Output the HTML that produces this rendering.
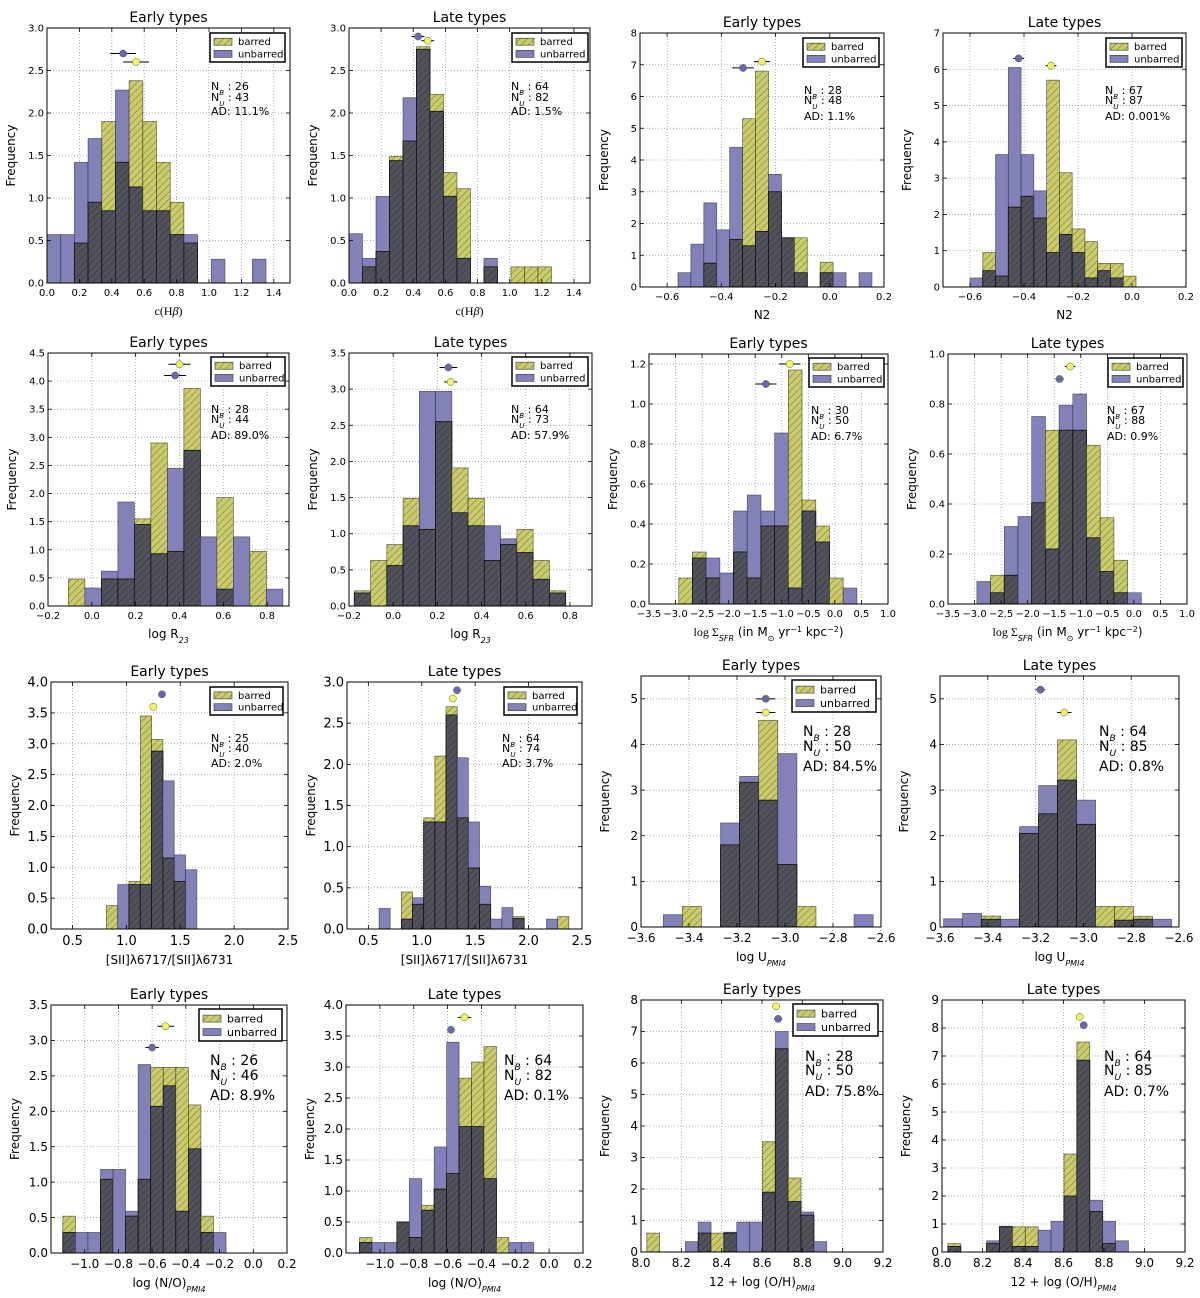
<!DOCTYPE html>
<html><head><meta charset="utf-8">
<style>
html,body{margin:0;padding:0;background:#fff;}
svg{display:block;font-family:"DejaVu Sans","Liberation Sans",sans-serif;}
</style></head>
<body>
<svg id="fig" width="1200" height="1298" viewBox="0 0 1200 1298" xmlns="http://www.w3.org/2000/svg">
<defs>
<pattern id="hatch" patternUnits="userSpaceOnUse" width="5" height="5" patternTransform="rotate(45)">
<line x1="0" y1="0" x2="0" y2="5" stroke="#000" stroke-width="1" stroke-opacity="0.45"/>
</pattern>
</defs>
</svg>
<script>
// ---- data: bin starts / widths ----
const binStart = [0, 0, -0.56, -0.6, -0.107, -0.176, -2.94, -2.956, 0.814, 0.6, -3.507, -3.585, -1.13, -1.12, 8.029, 8.029];
const binWidth = [0.0845, 0.084, 0.0477, 0.0473, 0.0753, 0.0736, 0.258, 0.258, 0.105, 0.1045, 0.0795, 0.0795, 0.0745, 0.0735, 0.0637, 0.0637];
// ---- barred / unbarred frequencies ----
const P1_barred   = [0,0,0.47,0.95,1.90,1.42,2.38,1.90,1.42,0.95,0.47,0,0,0,0,0];
const P1_unbarred = [0.57,0.57,1.42,1.70,0.85,2.27,1.13,0.85,0.85,0.57,0.57,0,0.28,0,0,0.28];
const P2_barred   = [0,0.19,0.37,1.49,1.67,2.78,2.22,1.30,1.11,0,0.19,0,0.19,0.19,0.19];
const P2_unbarred = [0.58,0.29,1.02,1.44,2.18,2.75,2.02,1.02,0.29,0,0.29,0,0,0,0];
const P3_barred   = [0,0,0.75,0,1.5,5.3,6.8,3.0,1.55,1.55,0,0.78,0,0,0];
const P3_unbarred = [0.45,1.35,2.65,1.8,4.4,1.3,1.75,3.55,1.55,0.45,0,0.45,0.45,0,0.45];
const P4_barred   = [0,0.95,0.3,2.2,2.5,1.9,5.7,3.15,1.6,1.25,0.65,0.65,0.3];
const P4_unbarred = [0.25,0.45,3.65,6.05,3.65,2.65,0.95,1.45,0.95,0.25,0.45,0.25,0];
const P5_barred   = [0.48,0,0.48,0.48,1.55,2.9,0.97,3.87,0,1.93,0,0.97,0];
const P5_unbarred = [0,0.32,0.62,1.85,1.45,0.93,2.45,2.77,1.23,0.3,1.23,0,0.3];
const P6_barred   = [0.21,0.63,0.85,1.49,1.06,2.55,1.91,1.49,0.63,0.85,1.06,0.63,0.21];
const P6_unbarred = [0.18,0,0.56,1.11,2.97,2.97,1.29,1.11,1.11,0.93,0.74,0.37,0.18];
const P7_barred   = [0.13,0.26,0.13,0,0.26,0.13,0.39,0.39,1.17,0.52,0.39,0.13,0];
const P7_unbarred = [0,0.23,0.23,0.155,0.465,0.545,0.465,0.855,0.08,0.465,0.31,0,0.08];
const P8_barred   = [0,0.115,0.115,0,0.405,0.695,0.695,0.695,0.635,0.345,0.175,0];
const P8_unbarred = [0.09,0.045,0.31,0.35,0.75,0.22,0.795,0.84,0.265,0.13,0.045,0.045];
const P9_barred   = [0.38,0,0.77,3.45,3.07,1.15,0.77,0];
const P9_unbarred = [0,0.72,0.72,0.72,2.88,2.4,1.2,0.96];
const P10_barred   = [0,0,0.45,0.3,1.35,2.1,2.7,1.35,0.74,0.3,0,0,0.15,0,0,0,0.15];
const P10_unbarred = [0.25,0,0.12,0.38,1.3,1.3,2.6,2.08,1.3,0.52,0.12,0.26,0.13,0,0,0.12,0];
const P11_barred   = [0,0.45,0,1.8,3.17,4.53,1.37,0.45,0,0,0];
const P11_unbarred = [0.27,0,0,2.28,3.3,2.78,3.8,0,0,0,0.27];
const P12_barred   = [0,0,0.24,0,2.05,2.48,4.1,2.25,0.45,0.45,0.23,0];
const P12_unbarred = [0.18,0.3,0.17,0.17,2.2,3.1,3.22,2.78,0,0.15,0.17,0.17];
const P13_barred   = [0.52,0,0,1.04,0,0.52,1.04,2.62,2.62,2.62,2.09,0.52,0];
const P13_unbarred = [0.29,0.29,0.29,1.18,1.18,0.59,2.66,2.07,2.36,0.59,1.47,0.29,0.29];
const P14_barred   = [0.25,0,0,0.5,0.25,0.77,1.03,1.28,2.82,3.08,3.33,0.25,0,0];
const P14_unbarred = [0.17,0.17,0.17,0.5,1.2,0.69,1.71,3.4,2.04,2.04,1.2,0,0.17,0.17];
const P15_barred   = [0.6,0,0,0,0.6,0.6,0.6,0,0,3.5,6.45,2.35,1.17,0];
const P15_unbarred = [0,0,0,0.33,0.95,0,0.63,0.95,0.95,1.9,7.0,1.6,1.27,0.33];
const P16_barred   = [0.3,0,0,0.3,0.9,0.9,0.9,0,0,3.5,7.5,1.45,0.3,0];
const P16_unbarred = [0.2,0,0,0.4,0.92,0.2,0.2,0.78,1.1,2.0,6.85,1.85,1.1,0.4];
const barredSeries = [P1_barred,P2_barred,P3_barred,P4_barred,P5_barred,P6_barred,P7_barred,P8_barred,P9_barred,P10_barred,P11_barred,P12_barred,P13_barred,P14_barred,P15_barred,P16_barred];
const unbarredSeries = [P1_unbarred,P2_unbarred,P3_unbarred,P4_unbarred,P5_unbarred,P6_unbarred,P7_unbarred,P8_unbarred,P9_unbarred,P10_unbarred,P11_unbarred,P12_unbarred,P13_unbarred,P14_unbarred,P15_unbarred,P16_unbarred];
// ---- mean markers: [x, y, xerr] ----
const barredMean = [[0.55,2.6,0.08],[0.49,2.85,0.04],[-0.25,7.1,0.03],[-0.30,6.1,0.02],[0.40,4.3,0.05],[0.26,3.1,0.03],[-0.85,1.2,0.2],[-1.2,0.95,0.1],[1.25,3.6,0.03],[1.29,2.8,0.03],[-3.08,4.7,0.04],[-3.08,4.7,0.03],[-0.52,3.2,0.05],[-0.5,3.8,0.04],[8.67,7.8,0.01],[8.68,8.4,0.01]];
const unbarredMean = [[0.47,2.7,0.08],[0.43,2.9,0.04],[-0.32,6.9,0.04],[-0.42,6.3,0.02],[0.38,4.1,0.05],[0.25,3.3,0.04],[-1.3,1.1,0.2],[-1.4,0.9,0.08],[1.33,3.8,0.03],[1.33,2.9,0.02],[-3.08,5.0,0.04],[-3.18,5.2,0.02],[-0.6,2.9,0.04],[-0.58,3.6,0.02],[8.68,7.4,0.02],[8.7,8.1,0.01]];
const countB = ["26","64","28","67","28","64","30","67","25","64","28","64","26","64","28","64"];
const countU = ["43","82","48","87","44","73","50","88","40","74","50","85","46","82","50","85"];
const adText = ["11.1%","1.5%","1.1%","0.001%","89.0%","57.9%","6.7%","0.9%","2.0%","3.7%","84.5%","0.8%","8.9%","0.1%","75.8%","0.7%"];
const titles = ["Early types","Late types","Early types","Late types","Early types","Late types","Early types","Late types","Early types","Late types","Early types","Late types","Early types","Late types","Early types","Late types"];
// ---- axis ticks ----
const xTicks = [[0,0.2,0.4,0.6,0.8,1.0,1.2,1.4],[0,0.2,0.4,0.6,0.8,1.0,1.2,1.4],[-0.6,-0.4,-0.2,0,0.2],[-0.6,-0.4,-0.2,0,0.2],[-0.2,0,0.2,0.4,0.6,0.8],[-0.2,0,0.2,0.4,0.6,0.8],[-3.5,-3,-2.5,-2,-1.5,-1,-0.5,0,0.5,1],[-3.5,-3,-2.5,-2,-1.5,-1,-0.5,0,0.5,1],[0.5,1,1.5,2,2.5],[0.5,1,1.5,2,2.5],[-3.6,-3.4,-3.2,-3.0,-2.8,-2.6],[-3.6,-3.4,-3.2,-3.0,-2.8,-2.6],[-1,-0.8,-0.6,-0.4,-0.2,0,0.2],[-1,-0.8,-0.6,-0.4,-0.2,0,0.2],[8,8.2,8.4,8.6,8.8,9,9.2],[8,8.2,8.4,8.6,8.8,9,9.2]];
const yTicks = [[0,0.5,1,1.5,2,2.5,3],[0,0.5,1,1.5,2,2.5,3],[0,1,2,3,4,5,6,7,8],[0,1,2,3,4,5,6,7],[0,0.5,1,1.5,2,2.5,3,3.5,4,4.5],[0,0.5,1,1.5,2,2.5,3,3.5],[0,0.2,0.4,0.6,0.8,1.0,1.2],[0,0.2,0.4,0.6,0.8,1.0],[0,0.5,1,1.5,2,2.5,3,3.5,4],[0,0.5,1,1.5,2,2.5,3],[0,1,2,3,4,5],[0,1,2,3,4,5],[0,0.5,1,1.5,2,2.5,3,3.5],[0,0.5,1,1.5,2,2.5,3,3.5,4],[0,1,2,3,4,5,6,7,8],[0,1,2,3,4,5,6,7,8,9]];

// ---- layout (pixel) ----
const layout = [
 {L:47,R:290,T:28,B:283,xr:[0,1.5],yr:[0,3],xd:1,yd:1,sx:211,sy:[86,97,111],fs:11,leg:[210,33,75,29],xl:'chb'},
 {L:349,R:590,T:28,B:283,xr:[0,1.5],yr:[0,3],xd:1,yd:1,sx:511,sy:[86,97,111],fs:11,leg:[512,33,76,29],xl:'chb'},
 {L:640,R:884,T:33,B:287,xr:[-0.7,0.2],yr:[0,8],xd:1,yd:0,sx:804,sy:[90,100,116],fs:11,leg:[803,38,76,29],xl:'N2'},
 {L:943,R:1186,T:33,B:287,xr:[-0.7,0.2],yr:[0,7],xd:1,yd:0,sx:1105,sy:[90,100,116],fs:11,leg:[1106,38,76,29],xl:'N2'},
 {L:48,R:289,T:353,B:606,xr:[-0.2,0.9],yr:[0,4.5],xd:1,yd:1,sx:211,sy:[409,419,435],fs:11,leg:[211,357,74,29],xl:'r23'},
 {L:349,R:592,T:353,B:606,xr:[-0.2,0.9],yr:[0,3.5],xd:1,yd:1,sx:511,sy:[409,419,435],fs:11,leg:[512,357,76,29],xl:'r23'},
 {L:649,R:888,T:354,B:604,xr:[-3.5,1.0],yr:[0,1.25],xd:1,yd:1,sx:811,sy:[410,420,436],fs:11,leg:[809,358,75,29],xl:'sfr'},
 {L:948,R:1187,T:354,B:604,xr:[-3.5,1.0],yr:[0,1.0],xd:1,yd:1,sx:1107,sy:[410,420,436],fs:11,leg:[1108,358,75,29],xl:'sfr'},
 {L:51,R:288,T:682,B:929,xr:[0.3,2.5],yr:[0,4],xd:1,yd:1,sx:211,sy:[738,748,763],fs:11,leg:[210,687,73,28],xl:'sii',tfs:13},
 {L:347,R:582,T:682,B:929,xr:[0.3,2.5],yr:[0,3],xd:1,yd:1,sx:502,sy:[738,748,763],fs:11,leg:[504,687,73,28],xl:'sii',tfs:13},
 {L:641,R:881,T:676,B:927,xr:[-3.6,-2.6],yr:[0,5.5],xd:1,yd:0,sx:803,sy:[731,746,766],fs:14,leg:[792,680,84,32],xl:'u',tfs:12},
 {L:940,R:1179,T:676,B:927,xr:[-3.6,-2.6],yr:[0,5.5],xd:1,yd:0,sx:1099,sy:[731,746,766],fs:14,leg:null,xl:'u',tfs:12},
 {L:51,R:287,T:1005,B:1253,xr:[-1.2,0.2],yr:[0,3.5],xd:1,yd:1,sx:210,sy:[1060,1075,1095],fs:14,leg:[199,1009,83,32],xl:'no',tfs:12},
 {L:346,R:583,T:1005,B:1253,xr:[-1.2,0.2],yr:[0,4],xd:1,yd:1,sx:504,sy:[1060,1075,1095],fs:14,leg:null,xl:'no',tfs:12},
 {L:641,R:883,T:1000,B:1252,xr:[8.0,9.2],yr:[0,8],xd:1,yd:0,sx:805,sy:[1056,1070,1091],fs:14,leg:[793,1004,85,32],xl:'oh',tfs:12},
 {L:942,R:1185,T:1000,B:1252,xr:[8.0,9.2],yr:[0,9],xd:1,yd:0,sx:1104,sy:[1056,1070,1091],fs:14,leg:null,xl:'oh',tfs:12}
];
layout[13].leg = null;

const NS = 'http://www.w3.org/2000/svg';
const fig = document.getElementById('fig');
function mk(tag, attrs, parent){
  const e = document.createElementNS(NS, tag);
  for (const k in attrs) e.setAttribute(k, attrs[k]);
  (parent||fig).appendChild(e);
  return e;
}
function fmt(v, d){ const s = v.toFixed(d); return s.replace('-', '\u2212'); }

const xLabelHTML = {
 chb: [['c(H','Liberation Serif'],['β','Liberation Serif'],[')','Liberation Serif']],
};

function addXLabel(g, lay, cx, y, fs){
  const t = mk('text', {x:cx, y:y, 'text-anchor':'middle', 'font-size':fs, fill:'#000'}, g);
  
  
  const sub = (txt, s) => { const ts = mk('tspan', {'baseline-shift':'sub','font-size':s||8,'font-style':'italic'}, t); ts.textContent = txt; };
  const sup = (txt) => { const ts = mk('tspan', {'baseline-shift':'super','font-size':8}, t); ts.textContent = txt; };
  const pl = (txt, attrs) => { const ts = mk('tspan', attrs||{}, t); ts.textContent = txt; };
  switch(lay.xl){
    case 'chb': t.setAttribute('font-family','Liberation Serif, serif'); pl('c(H'); pl('β',{'font-style':'italic'}); pl(')'); break;
    case 'N2': pl('N2'); break;
    case 'r23': pl('log R'); sub('23'); break;
    case 'sfr': pl('log Σ',{'font-family':'Liberation Serif, serif'}); sub('SFR'); pl('  (in M'); sub('⊙'); pl(' yr'); sup('−1'); pl(' kpc'); sup('−2'); pl(')'); break;
    case 'sii': pl('[SII]λ6717/[SII]λ6731'); break;
    case 'u': pl('log U'); sub('PMI4'); break;
    case 'no': pl('log (N/O)'); sub('PMI4'); break;
    case 'oh': pl('12 + log (O/H)'); sub('PMI4'); break;
  }
}

for (let p = 0; p < 16; p++){
  const lay = layout[p];
  const g = mk('g', {});
  
  
  const X = v => lay.L + (v - lay.xr[0]) / (lay.xr[1] - lay.xr[0]) * (lay.R - lay.L);
  const Y = v => lay.B - (v - lay.yr[0]) / (lay.yr[1] - lay.yr[0]) * (lay.B - lay.T);
  const tfs = lay.tfs || 10;

  // grid
  xTicks[p].forEach(v => {
    const x = X(v);
    if (x > lay.L + 1 && x < lay.R - 1){
      const l = mk('line', {x1:x, x2:x, y1:lay.T, y2:lay.B, stroke:'#999', 'stroke-width':0.8, 'stroke-dasharray':'1,2'}, g);
      
      
    }
  });
  yTicks[p].forEach(v => {
    const y = Y(v);
    if (y > lay.T + 1 && y < lay.B - 1){
      const l = mk('line', {x1:lay.L, x2:lay.R, y1:y, y2:y, stroke:'#999', 'stroke-width':0.8, 'stroke-dasharray':'1,2'}, g);
      
      
    }
  });

  // bars
  const bS = barredSeries[p], uS = unbarredSeries[p];
  const n = Math.max(bS.length, uS.length);
  for (let i = 0; i < n; i++){
    let x0 = binStart[p] + i * binWidth[p], x1 = x0 + binWidth[p];
    let px0 = Math.max(X(x0), lay.L), px1 = Math.min(X(x1), lay.R);
    if (px1 <= px0) continue;
    const b = bS[i] || 0, u = uS[i] || 0;
    if (u > 0){
      const r = mk('rect', {x:px0, y:Y(u), width:px1-px0, height:lay.B-Y(u), fill:'#8282b9', stroke:'#2a2a40', 'stroke-width':0.7, 'stroke-opacity':0.7}, g);
      
      
    }
    if (b > 0){
      const r = mk('rect', {x:px0, y:Y(b), width:px1-px0, height:lay.B-Y(b), fill:'#cbcb6c', stroke:'#2a2a10', 'stroke-width':0.7, 'stroke-opacity':0.7}, g);
      
      
    }
    const m = Math.min(b, u);
    if (m > 0){
      const r = mk('rect', {x:px0, y:Y(m), width:px1-px0, height:lay.B-Y(m), fill:'#52525c', stroke:'#111', 'stroke-width':0.8}, g);
      
      
    }
    if (b > 0){
      const h = mk('rect', {x:px0, y:Y(b), width:px1-px0, height:lay.B-Y(b), fill:'url(#hatch)', stroke:'none'}, g);
      
      
    }
  }

  // mean markers
  [[unbarredMean[p], '#6a6aa8', 'unbarred-mean-marker'], [barredMean[p], '#f4f45c', 'barred-mean-marker']].forEach(([m, col, nm]) => {
    const cx = X(m[0]), cy = Y(m[1]);
    const mg = mk('g', {}, g);
    
    
    mk('line', {x1:X(m[0]-m[2]), x2:X(m[0]+m[2]), y1:cy, y2:cy, stroke:'#000', 'stroke-width':1}, mg);
    mk('circle', {cx:cx, cy:cy, r:3.6, fill:col, stroke:'#555', 'stroke-width':0.5}, mg);
  });

  // frame
  const fr = mk('rect', {x:lay.L, y:lay.T, width:lay.R-lay.L, height:lay.B-lay.T, fill:'none', stroke:'#000', 'stroke-width':1}, g);
  
  

  // ticks + labels
  xTicks[p].forEach(v => {
    const x = X(v);
    mk('line', {x1:x, x2:x, y1:lay.B, y2:lay.B-4, stroke:'#000', 'stroke-width':0.8}, g);
    mk('line', {x1:x, x2:x, y1:lay.T, y2:lay.T+4, stroke:'#000', 'stroke-width':0.8}, g);
    const t = mk('text', {x:x, y:lay.B + tfs + 3, 'text-anchor':'middle', 'font-size':tfs, fill:'#000'}, g);
    
    
    t.textContent = fmt(v, lay.xd);
  });
  yTicks[p].forEach(v => {
    const y = Y(v);
    mk('line', {x1:lay.L, x2:lay.L+4, y1:y, y2:y, stroke:'#000', 'stroke-width':0.8}, g);
    mk('line', {x1:lay.R, x2:lay.R-4, y1:y, y2:y, stroke:'#000', 'stroke-width':0.8}, g);
    const t = mk('text', {x:lay.L - 3, y:y + tfs*0.35, 'text-anchor':'end', 'font-size':tfs, fill:'#000'}, g);
    
    
    t.textContent = fmt(v, lay.yd);
  });

  // title
  const tt = mk('text', {x:(lay.L+lay.R)/2, y:lay.T - 6, 'text-anchor':'middle', 'font-size':14, fill:'#000'}, g);
  
  
  tt.textContent = titles[p];

  // y label
  const yl = mk('text', {x:0, y:0, 'text-anchor':'middle', 'font-size':12, fill:'#000', transform:`translate(${lay.L-32},${(lay.T+lay.B)/2}) rotate(-90)`}, g);
  
  
  yl.textContent = 'Frequency';

  // x label
  addXLabel(g, lay, (lay.L+lay.R)/2, lay.B + tfs + 22, 12);

  // stats text
  const fs = lay.fs;
  const s1 = mk('text', {x:lay.sx, y:lay.sy[0] + fs*0.35, 'font-size':fs, fill:'#000'}, g);
  
  
  let ts = mk('tspan', {}, s1); ts.textContent = 'N';
  ts = mk('tspan', {'baseline-shift':'sub', 'font-size':fs*0.65, 'font-style':'italic'}, s1); ts.textContent = 'B';
  ts = mk('tspan', {}, s1); ts.textContent = ' : ' + countB[p];
  const s2 = mk('text', {x:lay.sx, y:lay.sy[1] + fs*0.35, 'font-size':fs, fill:'#000'}, g);
  
  
  ts = mk('tspan', {}, s2); ts.textContent = 'N';
  ts = mk('tspan', {'baseline-shift':'sub', 'font-size':fs*0.65, 'font-style':'italic'}, s2); ts.textContent = 'U';
  ts = mk('tspan', {}, s2); ts.textContent = ' : ' + countU[p];
  const s3 = mk('text', {x:lay.sx, y:lay.sy[2] + fs*0.35, 'font-size':fs, fill:'#000'}, g);
  
  
  s3.textContent = 'AD: ' + adText[p];

  // legend
  if (lay.leg){
    const [lx, ly, lw, lh] = lay.leg;
    const lg = mk('g', {}, g);
    
    
    mk('rect', {x:lx, y:ly, width:lw, height:lh, fill:'#fff', stroke:'#000', 'stroke-width':1.5}, lg);
    const lfs = lh > 30 ? 11 : 10;
    const rows = [['barred', '#cbcb6c', true], ['unbarred', '#8282b9', false]];
    rows.forEach((r, i) => {
      const cy = ly + lh*(i===0?0.3:0.72);
      const e = mk('g', {}, lg);
      
      
      mk('rect', {x:lx+4, y:cy-3.5, width:18, height:7, fill:r[1], stroke:'#333', 'stroke-width':0.6}, e);
      if (r[2]) mk('rect', {x:lx+4, y:cy-3.5, width:18, height:7, fill:'url(#hatch)'}, e);
      const t = mk('text', {x:lx+28, y:cy+lfs*0.35, 'font-size':lfs, fill:'#000'}, e);
      t.textContent = r[0];
    });
  }
}
</script>
</body></html>
